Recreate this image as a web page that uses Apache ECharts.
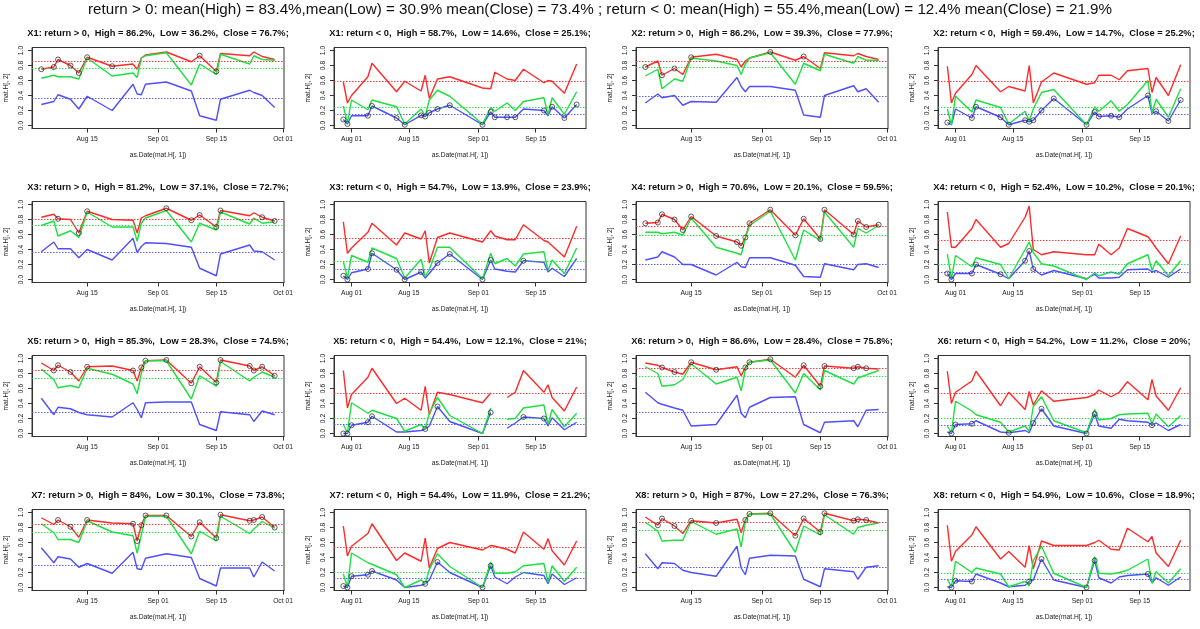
<!DOCTYPE html>
<html><head><meta charset="utf-8">
<script src="https://cdn.jsdelivr.net/npm/echarts@6/dist/echarts.min.js"></script>
<style>html,body{margin:0;padding:0;background:#fff}#c{width:1200px;height:629px}</style>
</head><body><div id="c"></div>
<script>
const mainTitle = "return > 0: mean(High) = 83.4%,mean(Low) = 30.9% mean(Close) = 73.4% ; return < 0: mean(High) = 55.4%,mean(Low) = 12.4% mean(Close) = 21.9%";
const stockNames = ['X1','X2','X3','X4','X5','X6','X7','X8'];

const posDates = ['2013-08-04','2013-08-07','2013-08-08','2013-08-11','2013-08-13','2013-08-15','2013-08-21','2013-08-26','2013-08-27','2013-08-28','2013-08-29','2013-09-03','2013-09-09','2013-09-11','2013-09-15','2013-09-16','2013-09-23','2013-09-24','2013-09-26','2013-09-29'];
const negDates = ['2013-07-30','2013-07-31','2013-08-01','2013-08-05','2013-08-06','2013-08-12','2013-08-14','2013-08-18','2013-08-19','2013-08-20','2013-08-22','2013-08-25','2013-09-02','2013-09-04','2013-09-05','2013-09-08','2013-09-10','2013-09-12','2013-09-17','2013-09-18','2013-09-19','2013-09-22','2013-09-25'];
const posTicks = ['2013-08-15','2013-09-01','2013-09-15','2013-10-01'];
const negTicks = ['2013-08-01','2013-08-15','2013-09-01','2013-09-15'];
const yTicks = [0, 0.2, 0.4, 0.6, 0.8, 1.0];

// means (%) from the panel titles
const posHighMean  = [86.2, 86.2, 81.2, 70.6, 85.3, 86.6, 84, 87];
const posLowMean   = [36.2, 39.3, 37.1, 20.1, 28.3, 28.4, 30.1, 27.2];
const posCloseMean = [76.7, 77.9, 72.7, 59.5, 74.5, 75.8, 73.8, 76.3];
const negHighMean  = [58.7, 59.4, 54.7, 52.4, 54.4, 54.2, 54.4, 54.9];
const negLowMean   = [14.6, 14.7, 13.9, 10.2, 12.1, 11.2, 11.9, 10.6];
const negCloseMean = [25.1, 25.2, 23.9, 20.1, 21, 20, 21.2, 18.9];

// ---- return > 0 ----
const X1posHigh  = [0.75,0.78,0.88,0.80,0.70,0.91,0.79,0.82,0.75,0.90,0.94,0.98,0.85,0.93,0.72,0.96,0.93,0.98,0.92,0.88];
const X1posLow   = [0.28,0.32,0.41,0.35,0.22,0.39,0.20,0.55,0.42,0.41,0.55,0.58,0.46,0.13,0.07,0.35,0.47,0.44,0.40,0.24];
const X1posClose = [0.63,0.67,0.65,0.65,0.62,0.90,0.66,0.70,0.64,0.90,0.93,0.97,0.54,0.82,0.68,0.95,0.82,0.93,0.88,0.87];
const X1posMarks = [0,1,2,3,4,5,6,13,14];

const X2posHigh  = [0.78,0.86,0.67,0.76,0.68,0.91,0.95,0.88,0.78,0.86,0.90,0.98,0.87,0.92,0.76,0.97,0.93,0.96,0.92,0.88];
const X2posLow   = [0.30,0.42,0.37,0.40,0.27,0.32,0.31,0.64,0.52,0.45,0.52,0.52,0.47,0.14,0.11,0.40,0.53,0.45,0.49,0.31];
const X2posClose = [0.66,0.75,0.49,0.62,0.59,0.90,0.86,0.80,0.68,0.82,0.90,0.97,0.55,0.83,0.73,0.95,0.83,0.92,0.87,0.87];
const X2posMarks = [0,2,3,5,11,13];

const X3posHigh  = [0.83,0.87,0.81,0.80,0.62,0.91,0.80,0.79,0.62,0.82,0.85,0.95,0.79,0.86,0.70,0.92,0.85,0.89,0.83,0.78];
const X3posLow   = [0.37,0.50,0.41,0.41,0.29,0.40,0.26,0.55,0.36,0.44,0.49,0.48,0.43,0.15,0.05,0.34,0.46,0.38,0.37,0.26];
const X3posClose = [0.72,0.78,0.58,0.65,0.56,0.90,0.70,0.70,0.51,0.75,0.82,0.92,0.50,0.75,0.66,0.90,0.74,0.82,0.75,0.77];
const X3posMarks = [2,4,5,11,12,13,14,15,18,19];

const X4posHigh  = [0.75,0.76,0.87,0.80,0.66,0.84,0.58,0.50,0.45,0.56,0.75,0.93,0.59,0.81,0.54,0.93,0.60,0.78,0.70,0.73];
const X4posLow   = [0.26,0.30,0.37,0.30,0.20,0.20,0.06,0.23,0.17,0.16,0.29,0.29,0.19,0.04,0.03,0.21,0.13,0.20,0.21,0.16];
const X4posClose = [0.63,0.63,0.61,0.63,0.59,0.82,0.43,0.35,0.33,0.55,0.72,0.91,0.26,0.66,0.52,0.90,0.43,0.68,0.62,0.72];
const X4posMarks = [0,1,2,3,4,5,6,7,8,9,10,11,12,13,14,15,16,17,18,19];

const X5posHigh  = [0.94,0.84,0.91,0.82,0.70,0.89,0.90,0.84,0.70,0.88,0.97,0.98,0.67,0.89,0.68,0.98,0.90,0.84,0.89,0.77];
const X5posLow   = [0.47,0.25,0.35,0.33,0.28,0.25,0.22,0.41,0.32,0.21,0.41,0.42,0.42,0.12,0.04,0.29,0.25,0.16,0.30,0.25];
const X5posClose = [0.86,0.72,0.61,0.64,0.61,0.87,0.79,0.66,0.53,0.80,0.97,0.97,0.46,0.77,0.63,0.96,0.70,0.75,0.82,0.75];
const X5posMarks = [1,2,3,5,7,9,10,11,12,13,14,15,16,17,18,19];

const X6posHigh  = [0.94,0.91,0.88,0.82,0.79,0.95,0.85,0.89,0.77,0.88,0.95,0.99,0.75,0.91,0.63,0.90,0.87,0.89,0.87,0.86];
const X6posLow   = [0.55,0.41,0.39,0.34,0.31,0.10,0.12,0.51,0.27,0.21,0.35,0.48,0.49,0.12,0.01,0.15,0.17,0.09,0.31,0.32];
const X6posClose = [0.89,0.80,0.63,0.65,0.72,0.93,0.66,0.75,0.57,0.85,0.95,0.98,0.54,0.80,0.58,0.84,0.66,0.74,0.78,0.84];
const X6posMarks = [2,3,5,6,9,10,11,13,14,15,16,17,18];

const X7posHigh  = [0.93,0.84,0.90,0.81,0.67,0.90,0.86,0.85,0.62,0.83,0.96,0.96,0.68,0.87,0.66,0.97,0.89,0.90,0.94,0.80];
const X7posLow   = [0.53,0.33,0.41,0.38,0.27,0.32,0.19,0.47,0.25,0.24,0.39,0.45,0.40,0.12,0.02,0.26,0.26,0.14,0.34,0.22];
const X7posClose = [0.85,0.73,0.64,0.64,0.60,0.89,0.74,0.69,0.46,0.70,0.95,0.95,0.45,0.75,0.62,0.95,0.72,0.78,0.88,0.79];
const X7posMarks = [2,3,5,7,8,9,10,11,12,13,14,15,16,17,18,19];

const X8posHigh  = [0.94,0.83,0.92,0.82,0.72,0.89,0.86,0.91,0.73,0.90,0.98,0.99,0.69,0.92,0.74,0.99,0.89,0.91,0.90,0.86];
const X8posLow   = [0.45,0.25,0.33,0.32,0.23,0.20,0.15,0.55,0.26,0.17,0.39,0.43,0.42,0.11,0.01,0.25,0.21,0.11,0.27,0.29];
const X8posClose = [0.87,0.75,0.62,0.63,0.63,0.88,0.71,0.78,0.54,0.88,0.98,0.98,0.47,0.82,0.70,0.97,0.71,0.80,0.83,0.86];
const X8posMarks = [1,2,3,5,6,9,10,11,12,13,14,15,16,17,18];

// ---- return < 0 ----
const X1negHigh  = [0.58,0.30,0.40,0.65,0.83,0.45,0.59,0.46,0.67,0.36,0.62,0.65,0.50,0.49,0.71,0.62,0.60,0.75,0.57,0.60,0.59,0.43,0.82];
const X1negLow   = [0.08,0.02,0.13,0.13,0.26,0.10,0.01,0.135,0.12,0.17,0.22,0.27,0.01,0.18,0.11,0.11,0.11,0.22,0.20,0.13,0.25,0.10,0.28];
const X1negClose = [0.26,0.03,0.34,0.21,0.34,0.25,0.02,0.22,0.13,0.34,0.47,0.39,0.02,0.24,0.19,0.30,0.20,0.32,0.37,0.14,0.37,0.15,0.45];
const X1negMarks = [0,1,3,4,5,6,7,8,9,10,11,12,13,14,15,16,18,20,21,22];

const X2negHigh  = [0.79,0.30,0.43,0.68,0.80,0.45,0.52,0.46,0.80,0.30,0.58,0.70,0.55,0.57,0.67,0.67,0.61,0.73,0.76,0.44,0.64,0.40,0.81];
const X2negLow   = [0.04,0.01,0.22,0.10,0.25,0.11,0.01,0.07,0.05,0.07,0.20,0.36,0.01,0.18,0.12,0.13,0.11,0.22,0.40,0.16,0.19,0.06,0.34];
const X2negClose = [0.22,0.01,0.39,0.18,0.34,0.24,0.02,0.19,0.06,0.22,0.44,0.48,0.01,0.25,0.19,0.33,0.19,0.28,0.60,0.17,0.35,0.11,0.49];
const X2negMarks = [0,3,4,5,6,7,8,9,10,11,12,13,14,15,16,18,20,21,22];

const X3negHigh  = [0.77,0.35,0.42,0.63,0.75,0.46,0.62,0.54,0.65,0.22,0.56,0.62,0.50,0.65,0.58,0.53,0.53,0.73,0.52,0.50,0.45,0.30,0.71];
const X3negLow   = [0.05,0.00,0.09,0.14,0.35,0.13,0.00,0.10,0.02,0.08,0.22,0.34,0.00,0.26,0.14,0.11,0.10,0.25,0.23,0.10,0.15,0.04,0.28];
const X3negClose = [0.24,0.02,0.32,0.23,0.42,0.28,0.02,0.27,0.04,0.13,0.43,0.43,0.01,0.35,0.21,0.28,0.18,0.34,0.37,0.12,0.26,0.08,0.42];
const X3negMarks = [0,1,3,4,5,6,7,10,11,12,13,17];

const X4negHigh  = [0.90,0.43,0.43,0.68,0.80,0.43,0.48,0.83,0.98,0.40,0.33,0.37,0.33,0.33,0.47,0.33,0.42,0.68,0.57,0.50,0.42,0.21,0.58];
const X4negLow   = [0.08,0.00,0.08,0.08,0.20,0.07,0.01,0.25,0.38,0.14,0.06,0.12,0.01,0.07,0.02,0.02,0.03,0.13,0.14,0.10,0.12,0.03,0.14];
const X4negClose = [0.34,0.01,0.32,0.17,0.29,0.20,0.01,0.40,0.50,0.36,0.21,0.18,0.00,0.09,0.05,0.10,0.07,0.21,0.33,0.12,0.25,0.05,0.25];
const X4negMarks = [0,1,3,4,5,7,8,9];

const X5negHigh  = [0.84,0.34,0.52,0.75,0.87,0.40,0.47,0.31,0.63,0.25,0.55,0.52,0.41,0.54,null,0.48,0.55,0.84,0.55,0.65,0.48,0.30,0.62];
const X5negLow   = [0.00,0.00,0.11,0.15,0.23,0.02,0.02,0.04,0.06,0.10,0.36,0.16,0.00,0.28,null,0.07,0.14,0.22,0.20,0.10,0.21,0.05,0.15];
const X5negClose = [0.12,0.01,0.41,0.27,0.31,0.20,0.03,0.12,0.06,0.27,0.48,0.24,0.00,0.34,null,0.19,0.20,0.34,0.38,0.12,0.32,0.09,0.27];
const X5negMarks = [0,1,2,3,4,8,10,13,17,18];

const X6negHigh  = [0.83,0.40,0.55,0.70,0.83,0.37,0.55,0.32,0.56,0.38,0.57,0.43,0.48,0.52,0.58,0.49,0.55,0.69,0.45,0.72,0.50,0.31,0.61];
const X6negLow   = [0.02,0.00,0.12,0.13,0.17,0.02,0.01,0.04,0.01,0.14,0.33,0.10,0.00,0.26,0.10,0.07,0.19,0.17,0.15,0.11,0.14,0.04,0.12];
const X6negClose = [0.10,0.01,0.43,0.30,0.25,0.15,0.02,0.10,0.03,0.36,0.49,0.17,0.01,0.32,0.18,0.20,0.25,0.26,0.27,0.13,0.26,0.09,0.24];
const X6negMarks = [1,2,3,6,9,10,12,13,19];

const X7negHigh  = [0.82,0.42,0.55,0.72,0.85,0.36,0.46,0.35,0.66,0.26,0.52,0.60,0.50,0.56,0.55,0.51,0.46,0.74,0.51,0.65,0.49,0.30,0.62];
const X7negLow   = [0.02,0.00,0.15,0.17,0.22,0.10,0.00,0.03,0.05,0.10,0.34,0.20,0.00,0.29,0.14,0.05,0.14,0.20,0.16,0.05,0.18,0.04,0.13];
const X7negClose = [0.18,0.01,0.46,0.33,0.31,0.17,0.00,0.10,0.05,0.24,0.45,0.28,0.00,0.34,0.19,0.19,0.21,0.29,0.32,0.07,0.29,0.08,0.27];
const X7negMarks = [0,1,2,3,4,8,10,12,13];

const X8negHigh  = [0.83,0.35,0.48,0.70,0.81,0.38,0.48,0.27,0.56,0.25,0.62,0.56,0.56,0.60,0.63,0.51,0.50,0.79,0.61,0.68,0.46,0.28,0.63];
const X8negLow   = [0.01,0.00,0.09,0.08,0.18,0.06,0.01,0.03,0.08,0.10,0.38,0.10,0.00,0.36,0.13,0.06,0.14,0.16,0.18,0.06,0.13,0.03,0.14];
const X8negClose = [0.11,0.01,0.35,0.20,0.26,0.18,0.01,0.08,0.02,0.36,0.55,0.19,0.00,0.41,0.19,0.18,0.20,0.23,0.38,0.06,0.21,0.06,0.25];
const X8negMarks = [1,2,3,8,10,12,13,18];

const posSets = [
  [X1posHigh,X1posLow,X1posClose,X1posMarks],[X2posHigh,X2posLow,X2posClose,X2posMarks],
  [X3posHigh,X3posLow,X3posClose,X3posMarks],[X4posHigh,X4posLow,X4posClose,X4posMarks],
  [X5posHigh,X5posLow,X5posClose,X5posMarks],[X6posHigh,X6posLow,X6posClose,X6posMarks],
  [X7posHigh,X7posLow,X7posClose,X7posMarks],[X8posHigh,X8posLow,X8posClose,X8posMarks]];
const negSets = [
  [X1negHigh,X1negLow,X1negClose,X1negMarks],[X2negHigh,X2negLow,X2negClose,X2negMarks],
  [X3negHigh,X3negLow,X3negClose,X3negMarks],[X4negHigh,X4negLow,X4negClose,X4negMarks],
  [X5negHigh,X5negLow,X5negClose,X5negMarks],[X6negHigh,X6negLow,X6negClose,X6negMarks],
  [X7negHigh,X7negLow,X7negClose,X7negMarks],[X8negHigh,X8negLow,X8negClose,X8negMarks]];

// ---------- build ----------
const MON = ['Jan','Feb','Mar','Apr','May','Jun','Jul','Aug','Sep','Oct','Nov','Dec'];
function ts(s){ const p = s.split('-').map(Number); return Date.UTC(p[0], p[1]-1, p[2]); }
function fmt(v){ const d = new Date(v); const dd = d.getUTCDate(); return MON[d.getUTCMonth()] + ' ' + (dd < 10 ? '0' + dd : dd); }

const FONT = 'Liberation Sans';
const RED = '#ff2a2a', GREEN = '#1ee040', BLUE = '#4f4fff';
const AX = '#333';
const grids = [], xAxes = [], yAxes = [], series = [], graphics = [];

graphics.push({type:'text', x:600, y:10, style:{text:mainTitle, fontSize:15.2, fontFamily:FONT, fill:'#111', align:'center', verticalAlign:'middle'}});

let k = 0;
function addPanel(idx, isPos){
  const name = stockNames[idx];
  const set = isPos ? posSets[idx] : negSets[idx];
  const dates = (isPos ? posDates : negDates).map(ts);
  const ticks = (isPos ? posTicks : negTicks).map(ts);
  const hm = isPos ? posHighMean[idx] : negHighMean[idx];
  const lm = isPos ? posLowMean[idx] : negLowMean[idx];
  const cm = isPos ? posCloseMean[idx] : negCloseMean[idx];
  const row = Math.floor(idx / 2);
  const col = (idx % 2) * 2 + (isPos ? 0 : 1);
  const left = 32 + 302 * col, top = 47.5 + 154 * row;
  const lo = dates[0], hi = dates[dates.length - 1], span = hi - lo;

  grids.push({left:left, top:top, width:252, height:81, show:true, borderColor:AX, borderWidth:1, backgroundColor:'transparent'});
  xAxes.push({type:'value', gridIndex:k, min:lo - 0.04*span, max:hi + 0.04*span,
    axisLine:{show:true, onZero:false, lineStyle:{color:AX, width:1}},
    axisTick:{show:true, length:4, lineStyle:{color:AX}, customValues:ticks},
    axisLabel:{show:true, customValues:ticks, formatter:fmt, fontSize:6.7, fontFamily:FONT, color:'#222', margin:7},
    splitLine:{show:false},
    name:'as.Date(mat.H[, 1])', nameLocation:'middle', nameGap:23,
    nameTextStyle:{fontSize:6.7, fontFamily:FONT, color:'#222'}});
  yAxes.push({type:'value', gridIndex:k, min:-0.04, max:1.04,
    axisLine:{show:true, onZero:false, lineStyle:{color:AX, width:1}},
    axisTick:{show:true, length:4, lineStyle:{color:AX}, customValues:yTicks},
    axisLabel:{show:true, customValues:yTicks, rotate:90, formatter:v => v.toFixed(1), fontSize:6.7, fontFamily:FONT, color:'#222', margin:7},
    splitLine:{show:false},
    name:'mat.H[, 2]', nameLocation:'middle', nameGap:22, nameRotate:90,
    nameTextStyle:{fontSize:6.7, fontFamily:FONT, color:'#222'}});

  const mk = (arr) => dates.map((d, i) => [d, arr[i] == null ? '-' : arr[i]]);
  const lineSeries = (arr, color, mean) => ({
    type:'line', xAxisIndex:k, yAxisIndex:k, data:mk(arr), showSymbol:false, symbol:'none',
    connectNulls:false, animation:false, silent:true,
    lineStyle:{color:color, width:1.4}, itemStyle:{color:color},
    markLine:{silent:true, symbol:['none','none'], label:{show:false}, animation:false,
      lineStyle:{color:color, type:[1.5,1.5], width:1, opacity:0.9}, data:[{yAxis:mean/100}]}
  });
  series.push(lineSeries(set[0], RED, hm));
  series.push(lineSeries(set[1], BLUE, lm));
  series.push(lineSeries(set[2], GREEN, cm));
  const ref = isPos ? set[0] : set[1];
  series.push({type:'scatter', xAxisIndex:k, yAxisIndex:k, animation:false, silent:true,
    symbol:'circle', symbolSize:5,
    itemStyle:{color:'rgba(0,0,0,0)', borderColor:'#222', borderWidth:0.9},
    data:set[3].map(i => [dates[i], ref[i]]), z:5});

  const sub = name + ': return ' + (isPos ? '>' : '<') + ' 0,  High = ' + hm + '%,  Low = ' + lm + '%,  Close = ' + cm + '%;';
  graphics.push({type:'text', x:left + 126, y:33 + 154 * row,
    style:{text:sub, fontSize:9.3, fontWeight:'bold', fontFamily:FONT, fill:'#111', align:'center', verticalAlign:'middle'}});
  k++;
}
for (let i = 0; i < 8; i++){ addPanel(i, true); addPanel(i, false); }

const chart = echarts.init(document.getElementById('c'), null, {renderer:'canvas'});
chart.setOption({backgroundColor:'#fff', animation:false, grid:grids, xAxis:xAxes, yAxis:yAxes, series:series, graphic:graphics});
</script>
</body></html>
